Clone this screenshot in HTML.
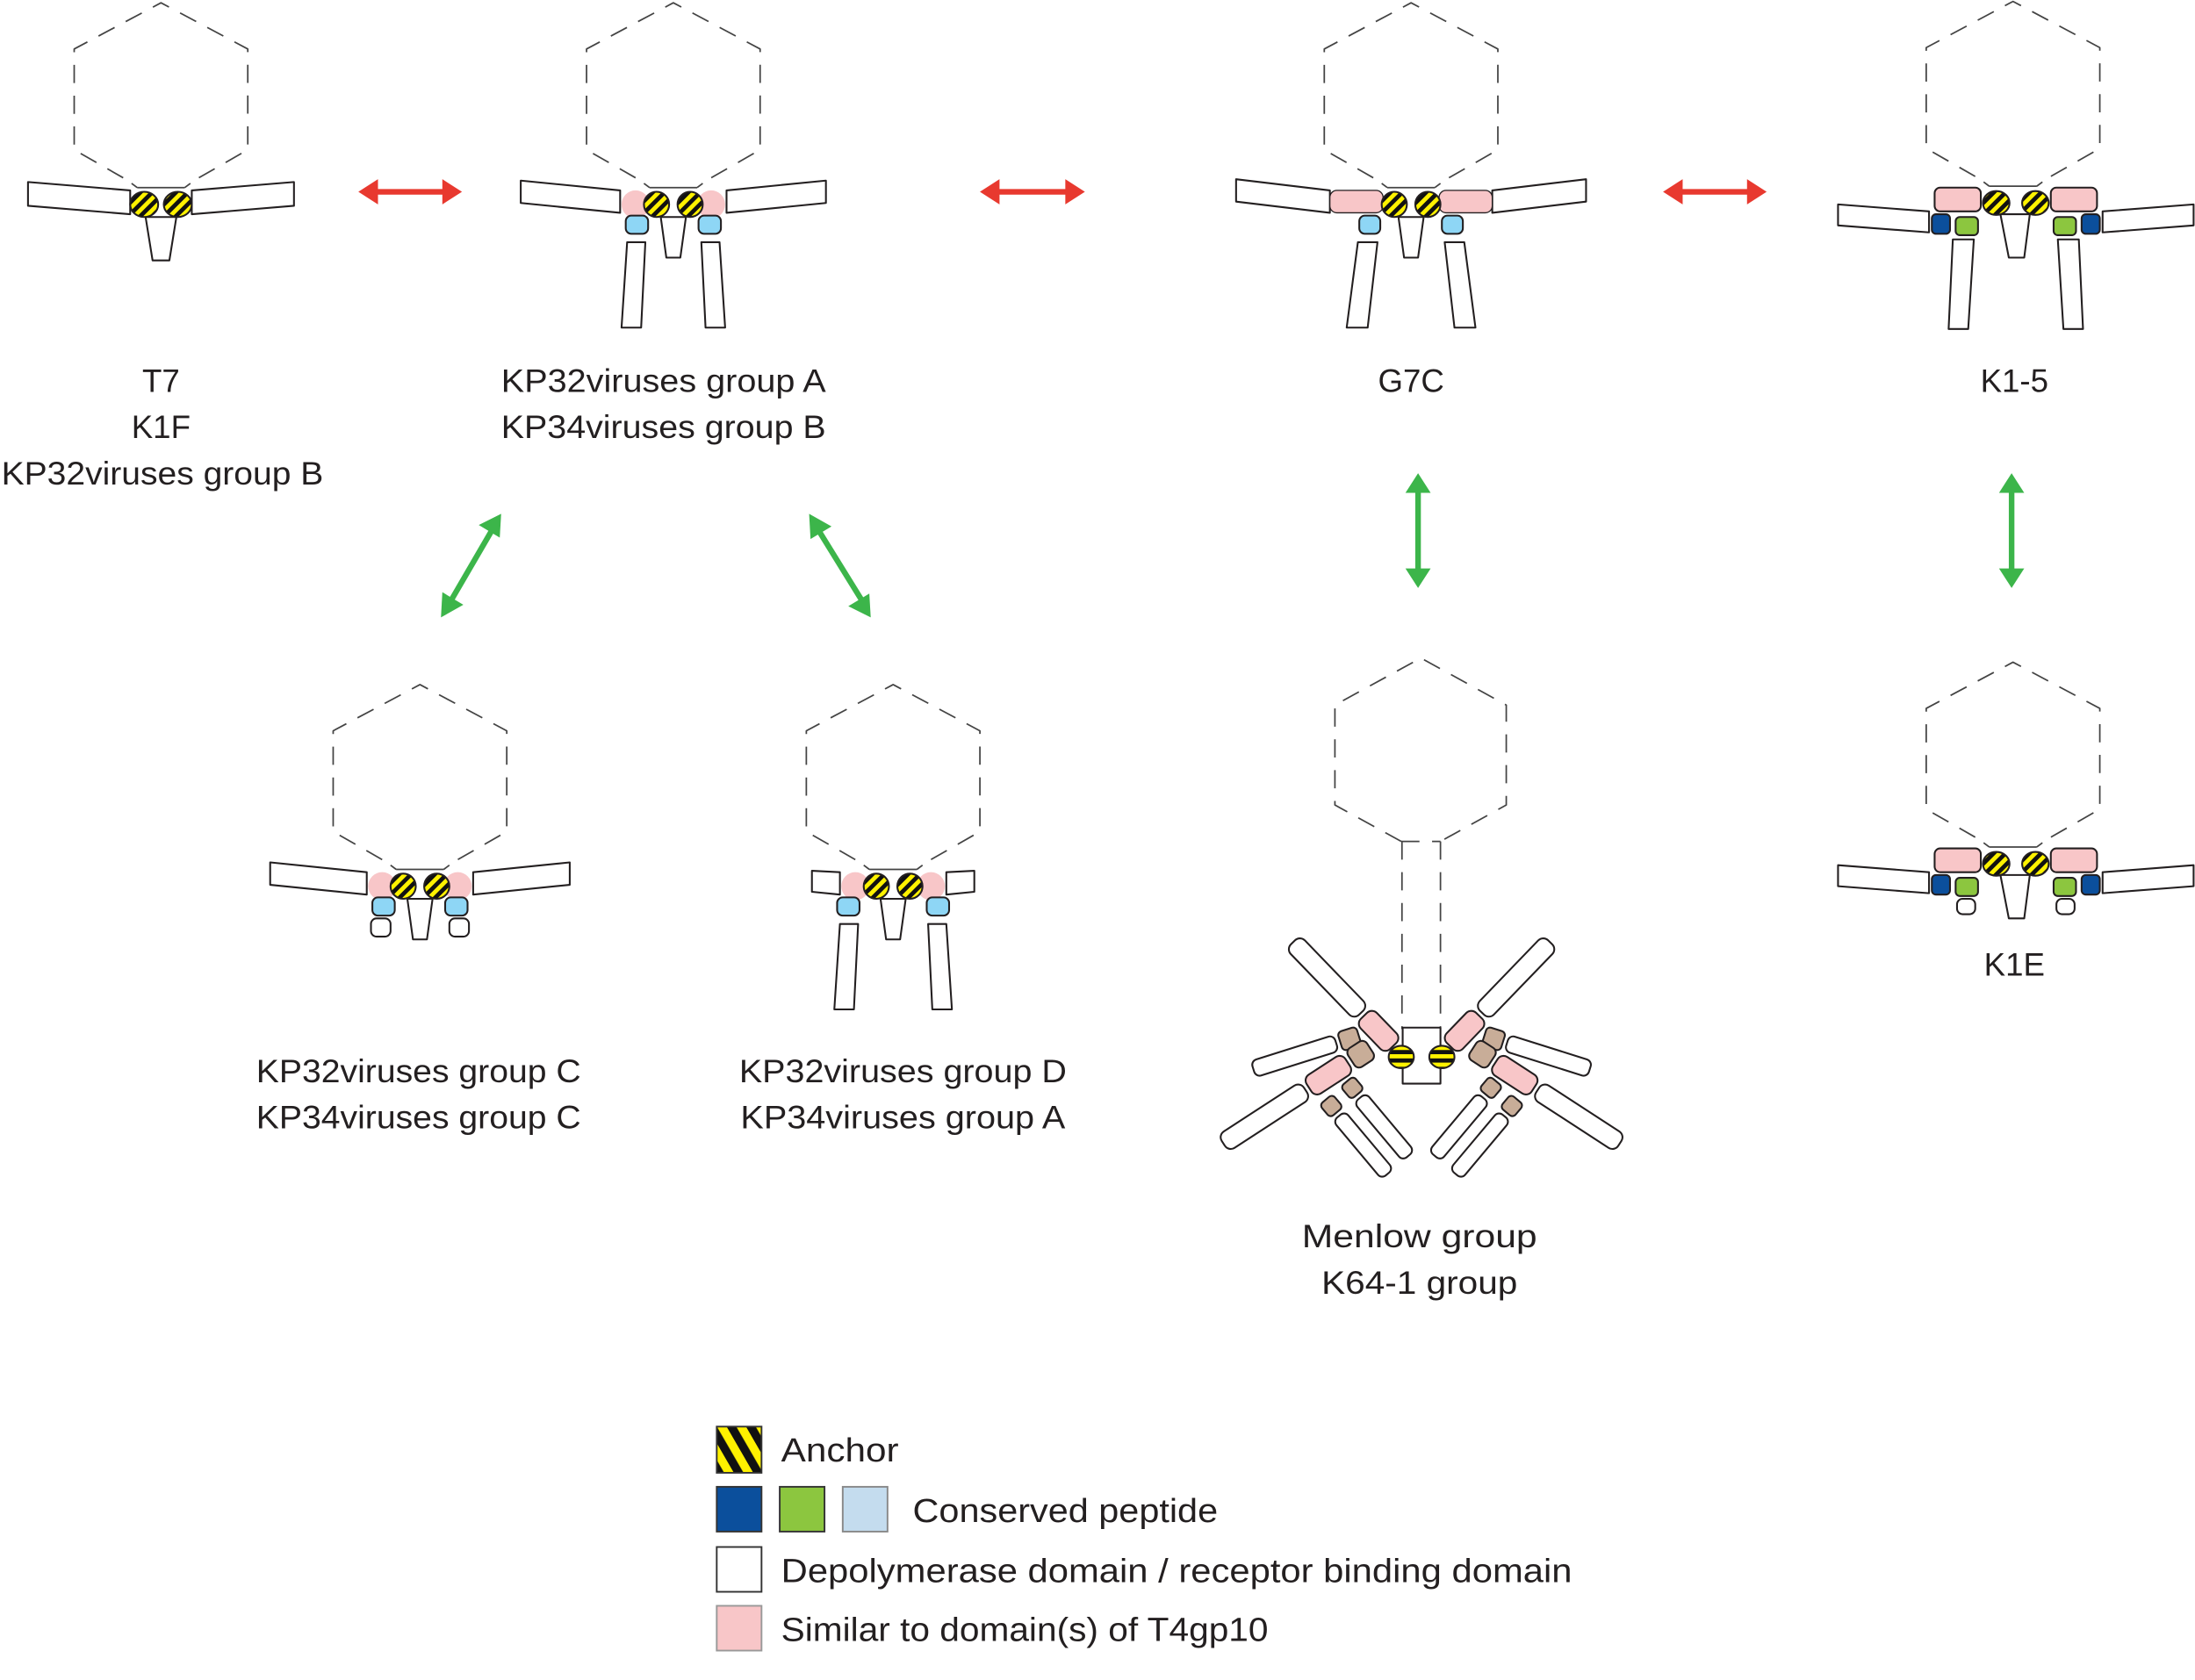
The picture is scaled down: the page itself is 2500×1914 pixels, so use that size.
<!DOCTYPE html>
<html><head><meta charset="utf-8"><style>
html,body{margin:0;padding:0;background:#fff;}
svg{display:block;}
text{font-family:"Liberation Sans",sans-serif;fill:#231f20;}
</style></head><body>
<svg width="2500" height="1914" viewBox="0 0 1568 1200" preserveAspectRatio="none" xmlns="http://www.w3.org/2000/svg">
<defs>
<pattern id="st" width="6" height="6" patternUnits="userSpaceOnUse" patternTransform="rotate(45)"><rect width="6" height="6" fill="#fff200"/><rect width="3" height="6" fill="#111"/></pattern>
<pattern id="sth" width="6" height="6" patternUnits="userSpaceOnUse"><rect width="6" height="6" fill="#fff200"/><rect width="6" height="3" fill="#111"/></pattern>
<pattern id="stl" width="12" height="12" patternUnits="userSpaceOnUse" patternTransform="rotate(-30)"><rect width="12" height="12" fill="#fff200"/><rect width="6" height="12" fill="#111"/></pattern>
<g id="hex" fill="none" stroke="#444" stroke-width="1.1">
<path d="M-27,-19 L-62,-39 L-62,-111 L0,-144 L62,-111 L62,-39 L27,-19" stroke-dasharray="13,9"/>
<path d="M-17,-12 H17 M-21,-15 L-17,-12 M21,-15 L17,-12"/>
</g>
</defs>
<g stroke="#231f20" stroke-width="1.3" stroke-linejoin="round">
<!-- T7 -->
<g transform="translate(115,146)">
<use href="#hex"/>
<path d="M-95,-16 L-22,-10 L-22,7 L-95,1 Z" fill="#fff"/>
<path d="M95,-16 L22,-10 L22,7 L95,1 Z" fill="#fff"/>
<path d="M-11,9 L11,9 L6,40 L-6,40 Z" fill="#fff"/>
<ellipse cx="-12" cy="0" rx="10" ry="9" fill="url(#st)"/>
<ellipse cx="12" cy="0" rx="10" ry="9" fill="url(#st)"/>
</g>
<!-- Group A -->
<g transform="translate(481,146)">
<use href="#hex"/>
<path d="M-109,-17 L-38,-10 L-38,6 L-109,-1 Z" fill="#fff"/>
<path d="M109,-17 L38,-10 L38,6 L109,-1 Z" fill="#fff"/>
<path d="M-9,9 L9,9 L5,38 L-5,38 Z" fill="#fff"/>
<ellipse cx="-27" cy="0" rx="10" ry="10" fill="#f8c6c8" stroke="none"/>
<ellipse cx="27" cy="0" rx="10" ry="10" fill="#f8c6c8" stroke="none"/>
<ellipse cx="-12" cy="0" rx="9" ry="9" fill="url(#st)"/>
<ellipse cx="12" cy="0" rx="9" ry="9" fill="url(#st)"/>
<rect x="-34" y="8" width="16" height="13" rx="4" fill="#8ed6f5"/>
<rect x="18" y="8" width="16" height="13" rx="4" fill="#8ed6f5"/>
<path d="M-33,27 L-20,27 L-23,88 L-37,88 Z" fill="#fff"/>
<path d="M33,27 L20,27 L23,88 L37,88 Z" fill="#fff"/>
</g>
<!-- G7C -->
<g transform="translate(1008,146)">
<use href="#hex"/>
<path d="M-125,-18 L-58,-10 L-58,6 L-125,-2 Z" fill="#fff"/>
<path d="M125,-18 L58,-10 L58,6 L125,-2 Z" fill="#fff"/>
<path d="M-9,9 L9,9 L5,38 L-5,38 Z" fill="#fff"/>
<rect x="-58" y="-10" width="38" height="16" rx="5" fill="#f8c6c8" stroke-width="0.8"/>
<rect x="20" y="-10" width="38" height="16" rx="5" fill="#f8c6c8" stroke-width="0.8"/>
<ellipse cx="-12" cy="0" rx="9" ry="9" fill="url(#st)"/>
<ellipse cx="12" cy="0" rx="9" ry="9" fill="url(#st)"/>
<rect x="-37" y="8" width="15" height="13" rx="4" fill="#8ed6f5"/>
<rect x="22" y="8" width="15" height="13" rx="4" fill="#8ed6f5"/>
<path d="M-38,27 L-24,27 L-31,88 L-46,88 Z" fill="#fff"/>
<path d="M38,27 L24,27 L31,88 L46,88 Z" fill="#fff"/>
</g>
<!-- K1-5 -->
<g transform="translate(1440,145)">
<use href="#hex" x="-2"/>
<path d="M-127,1 L-62,6 L-62,21 L-127,16 Z" fill="#fff"/>
<path d="M127,1 L62,6 L62,21 L127,16 Z" fill="#fff"/>
<path d="M-11,8 L10,8 L6,39 L-5,39 Z" fill="#fff"/>
<rect x="-58" y="-11" width="33" height="17" rx="4" fill="#f8c6c8"/>
<rect x="25" y="-11" width="33" height="17" rx="4" fill="#f8c6c8"/>
<ellipse cx="-14" cy="0" rx="9.5" ry="8.5" fill="url(#st)"/>
<ellipse cx="14" cy="0" rx="9.5" ry="8.5" fill="url(#st)"/>
<rect x="-60" y="8" width="13" height="14" rx="3" fill="#0b4f9c"/>
<rect x="47" y="8" width="13" height="14" rx="3" fill="#0b4f9c"/>
<rect x="-43" y="10" width="16" height="13" rx="3" fill="#8cc63f"/>
<rect x="27" y="10" width="16" height="13" rx="3" fill="#8cc63f"/>
<path d="M-45,26 L-30,26 L-34,90 L-48,90 Z" fill="#fff"/>
<path d="M45,26 L30,26 L34,90 L48,90 Z" fill="#fff"/>
</g>
<!-- K1E -->
<g transform="translate(1440,617)">
<use href="#hex" x="-2"/>
<path d="M-127,1 L-62,6 L-62,21 L-127,16 Z" fill="#fff"/>
<path d="M127,1 L62,6 L62,21 L127,16 Z" fill="#fff"/>
<path d="M-11,8 L10,8 L6,39 L-5,39 Z" fill="#fff"/>
<rect x="-58" y="-11" width="33" height="17" rx="4" fill="#f8c6c8"/>
<rect x="25" y="-11" width="33" height="17" rx="4" fill="#f8c6c8"/>
<ellipse cx="-14" cy="0" rx="9.5" ry="8.5" fill="url(#st)"/>
<ellipse cx="14" cy="0" rx="9.5" ry="8.5" fill="url(#st)"/>
<rect x="-60" y="8" width="13" height="14" rx="3" fill="#0b4f9c"/>
<rect x="47" y="8" width="13" height="14" rx="3" fill="#0b4f9c"/>
<rect x="-43" y="10" width="16" height="13" rx="3" fill="#8cc63f"/>
<rect x="27" y="10" width="16" height="13" rx="3" fill="#8cc63f"/>
<rect x="-42" y="25" width="13" height="11" rx="4" fill="#fff"/>
<rect x="29" y="25" width="13" height="11" rx="4" fill="#fff"/>
</g>
<!-- Group C -->
<g transform="translate(300,633)">
<use href="#hex"/>
<path d="M-107,-17 L-38,-10 L-38,6 L-107,-1 Z" fill="#fff"/>
<path d="M107,-17 L38,-10 L38,6 L107,-1 Z" fill="#fff"/>
<path d="M-9,9 L9,9 L5,38 L-5,38 Z" fill="#fff"/>
<ellipse cx="-27" cy="0" rx="10" ry="10" fill="#f8c6c8" stroke="none"/>
<ellipse cx="27" cy="0" rx="10" ry="10" fill="#f8c6c8" stroke="none"/>
<ellipse cx="-12" cy="0" rx="9" ry="9" fill="url(#st)"/>
<ellipse cx="12" cy="0" rx="9" ry="9" fill="url(#st)"/>
<rect x="-34" y="8" width="16" height="13" rx="4" fill="#8ed6f5"/>
<rect x="18" y="8" width="16" height="13" rx="4" fill="#8ed6f5"/>
<rect x="-35" y="23" width="14" height="13" rx="4" fill="#fff"/>
<rect x="21" y="23" width="14" height="13" rx="4" fill="#fff"/>
</g>
<!-- Group D -->
<g transform="translate(638,633)">
<use href="#hex"/>
<path d="M-58,-11 L-38,-10 L-38,6 L-58,4 Z" fill="#fff"/>
<path d="M58,-11 L38,-10 L38,6 L58,4 Z" fill="#fff"/>
<path d="M-9,9 L9,9 L5,38 L-5,38 Z" fill="#fff"/>
<ellipse cx="-27" cy="0" rx="10" ry="10" fill="#f8c6c8" stroke="none"/>
<ellipse cx="27" cy="0" rx="10" ry="10" fill="#f8c6c8" stroke="none"/>
<ellipse cx="-12" cy="0" rx="9" ry="9" fill="url(#st)"/>
<ellipse cx="12" cy="0" rx="9" ry="9" fill="url(#st)"/>
<rect x="-40" y="8" width="16" height="13" rx="4" fill="#8ed6f5"/>
<rect x="24" y="8" width="16" height="13" rx="4" fill="#8ed6f5"/>
<path d="M-38,27 L-25,27 L-28,88 L-42,88 Z" fill="#fff"/>
<path d="M38,27 L25,27 L28,88 L42,88 Z" fill="#fff"/>
</g>
<!-- Menlow -->
<g fill="none" stroke="#444" stroke-width="1.1" stroke-dasharray="13,9">
<path d="M1001,601 L953.6,575 L953.6,503.6 L1015,470 L1076,503.6 L1076,575 L1029,601"/>
<path d="M1001,601 H1029 M1001.5,601 V735 M1029,601 V735"/>
</g>
<rect x="1002" y="734" width="27" height="40" fill="#fff"/>
<g id="mleft">
<g transform="translate(998,750) rotate(-134)">
<rect x="4" y="-8" width="30" height="16" rx="5" fill="#f8c6c8"/>
<rect x="37" y="-7" width="70" height="14" rx="5" fill="#fff"/>
</g>
<g transform="translate(964,742) rotate(162.5)">
<rect x="-7" y="-7" width="14" height="14" rx="3" fill="#c8ad98"/>
<rect x="10" y="-6" width="62" height="12" rx="4" fill="#fff"/>
</g>
<g transform="translate(972,753) rotate(147)">
<rect x="-8" y="-8" width="16" height="16" rx="4" fill="#c8ad98"/>
<rect x="11" y="-8" width="33" height="16" rx="5" fill="#f8c6c8"/>
<rect x="47" y="-7" width="70" height="14" rx="5" fill="#fff"/>
</g>
<g transform="translate(966,777) rotate(50)">
<rect x="-6" y="-6" width="12" height="12" rx="3" fill="#c8ad98"/>
<rect x="9" y="-5" width="54" height="11" rx="4" fill="#fff"/>
</g>
<g transform="translate(951,790) rotate(50)">
<rect x="-6" y="-6" width="12" height="12" rx="3" fill="#c8ad98"/>
<rect x="9" y="-5" width="54" height="11" rx="4" fill="#fff"/>
</g>
</g>
<use href="#mleft" transform="translate(2031,0) scale(-1,1)"/>
<ellipse cx="1001" cy="755" rx="9" ry="8" fill="url(#sth)"/>
<ellipse cx="1030" cy="755" rx="9" ry="8" fill="url(#sth)"/>
</g>

<!-- arrows -->
<g fill="#e8392f" stroke="#e8392f">
<line x1="266" y1="137" x2="320" y2="137" stroke-width="4"/>
<polygon points="256,137 270,128 270,146" stroke="none"/>
<polygon points="330,137 316,128 316,146" stroke="none"/>
<line x1="710" y1="137" x2="765" y2="137" stroke-width="4"/>
<polygon points="700,137 714,128 714,146" stroke="none"/>
<polygon points="775,137 761,128 761,146" stroke="none"/>
<line x1="1198" y1="137" x2="1252" y2="137" stroke-width="4"/>
<polygon points="1188,137 1202,128 1202,146" stroke="none"/>
<polygon points="1262,137 1248,128 1248,146" stroke="none"/>
</g>
<g fill="#3cb54a" stroke="#3cb54a">
<line x1="1013" y1="348" x2="1013" y2="410" stroke-width="4"/>
<polygon points="1013,338 1004,352 1022,352" stroke="none"/>
<polygon points="1013,420 1004,406 1022,406" stroke="none"/>
<line x1="1437" y1="348" x2="1437" y2="410" stroke-width="4"/>
<polygon points="1437,338 1428,352 1446,352" stroke="none"/>
<polygon points="1437,420 1428,406 1446,406" stroke="none"/>
<line x1="321" y1="431" x2="353" y2="376" stroke-width="4"/>
<polygon points="358,367 342,375 357,384" stroke="none"/>
<polygon points="315,441 316,423 331,432" stroke="none"/>
<line x1="583" y1="376" x2="617" y2="431" stroke-width="4"/>
<polygon points="578,367 579,385 594,376" stroke="none"/>
<polygon points="622,441 606,433 621,424" stroke="none"/>
</g>

<!-- labels -->
<g font-size="23" text-anchor="middle">
<text x="115" y="280">T7</text>
<text x="115" y="313">K1F</text>
<text x="116" y="346" textLength="230" lengthAdjust="spacingAndGlyphs">KP32viruses group B</text>
<text x="474" y="280" textLength="232" lengthAdjust="spacingAndGlyphs">KP32viruses group A</text>
<text x="474" y="313" textLength="232" lengthAdjust="spacingAndGlyphs">KP34viruses group B</text>
<text x="1008" y="280">G7C</text>
<text x="1439" y="280">K1-5</text>
<text x="299" y="773" textLength="232" lengthAdjust="spacingAndGlyphs">KP32viruses group C</text>
<text x="299" y="806" textLength="232" lengthAdjust="spacingAndGlyphs">KP34viruses group C</text>
<text x="645" y="773" textLength="234" lengthAdjust="spacingAndGlyphs">KP32viruses group D</text>
<text x="645" y="806" textLength="232" lengthAdjust="spacingAndGlyphs">KP34viruses group A</text>
<text x="1014" y="891" textLength="168" lengthAdjust="spacingAndGlyphs">Menlow group</text>
<text x="1014" y="924" textLength="140" lengthAdjust="spacingAndGlyphs">K64-1 group</text>
<text x="1439" y="697">K1E</text>
</g>

<!-- legend -->
<g stroke="#333" stroke-width="1.2">
<rect x="512" y="1019" width="32" height="33" fill="url(#stl)"/>
<rect x="512" y="1062" width="32" height="32" fill="#0b4f9c"/>
<rect x="557" y="1062" width="32" height="32" fill="#8cc63f"/>
<rect x="602" y="1062" width="32" height="32" fill="#c4dcee" stroke="#888"/>
<rect x="512" y="1105" width="32" height="32" fill="#fff"/>
<rect x="512" y="1147" width="32" height="32" fill="#f8c6c8" stroke="#999"/>
</g>
<g font-size="24">
<text x="558" y="1044" textLength="84" lengthAdjust="spacingAndGlyphs">Anchor</text>
<text x="652" y="1087" textLength="218" lengthAdjust="spacingAndGlyphs">Conserved peptide</text>
<text x="558" y="1130" textLength="565" lengthAdjust="spacingAndGlyphs">Depolymerase domain / receptor binding domain</text>
<text x="558" y="1172" textLength="348" lengthAdjust="spacingAndGlyphs">Similar to domain(s) of T4gp10</text>
</g>
</svg>
</body></html>
